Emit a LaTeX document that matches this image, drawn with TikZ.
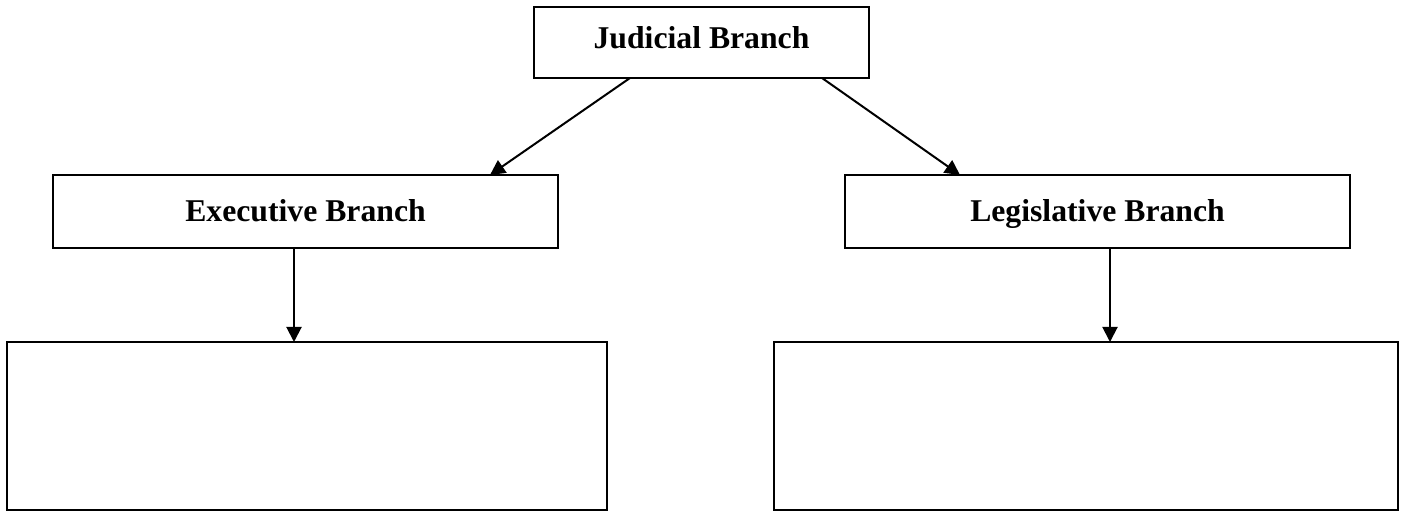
\documentclass[tikz,border=0pt]{standalone}
\usepackage{fontspec}
\setmainfont{Liberation Serif}
\usetikzlibrary{arrows.meta}
\tikzset{
  box/.style={draw=black, line width=1pt, fill=white, inner sep=0pt, outer sep=0pt,
    font=\fontsize{15.85}{19}\selectfont\bfseries, text height=10.5pt, text depth=0pt},
  arr/.style={draw=black, line width=1pt, -{Triangle[length=7.5pt,width=7.5pt]}}
}
\begin{document}
\begin{tikzpicture}[x=0.5pt,y=-0.5pt]
\useasboundingbox (0,0) rectangle (1404,512);
\node[box, minimum width=167.5pt, minimum height=35.5pt, text depth=4.5pt] (jud) at (701.5,42.5) {Judicial Branch};
\node[box, minimum width=252.5pt, minimum height=36.5pt] (exe) at (305.5,211.5) {Executive Branch};
\node[box, minimum width=252.5pt, minimum height=36.5pt] (leg) at (1097.5,211.5) {Legislative Branch};
\node[box, minimum width=300pt, minimum height=84pt] (bl) at (307,426) {};
\node[box, minimum width=312pt, minimum height=84pt] (br) at (1086,426) {};
\draw[arr] ([xshift=-35.75pt]jud.south) -- ([xshift=92.25pt]exe.north);
\draw[arr] ([xshift=60.25pt]jud.south) -- ([xshift=-68.75pt]leg.north);
\draw[arr] ([xshift=-5.75pt]exe.south) -- ([xshift=-5.75pt]exe.south |- bl.north);
\draw[arr] ([xshift=6.25pt]leg.south) -- ([xshift=6.25pt]leg.south |- br.north);
\end{tikzpicture}
\end{document}
